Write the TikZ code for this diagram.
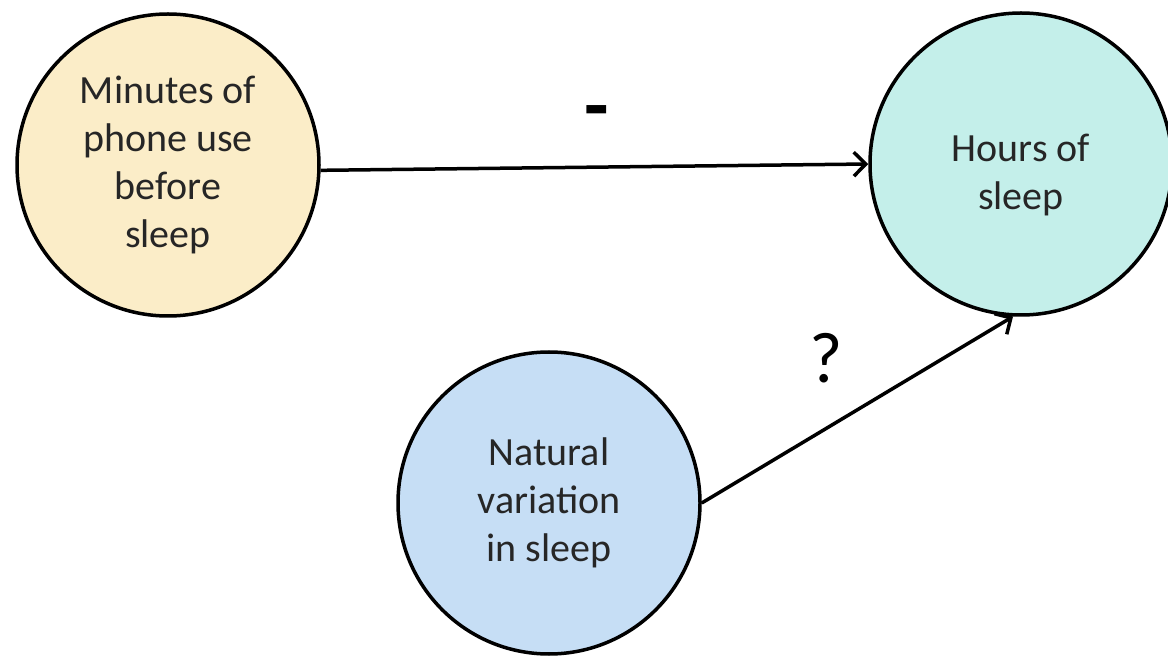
\documentclass[tikz,border=0pt]{standalone}
\usepackage{fontspec}
\setmainfont{Carlito}
\usetikzlibrary{arrows.meta}
\definecolor{phonefill}{RGB}{251,237,200}
\definecolor{hoursfill}{RGB}{196,239,234}
\definecolor{naturalfill}{RGB}{198,222,245}
\tikzset{
  var/.style={circle, draw, line width=3.5pt, minimum size=302pt, inner sep=0pt,
    align=center, text=black!85, font=\fontsize{40}{48}\selectfont},
  link/.style={line width=3.5pt, -{Straight Barb[length=12pt,width=24pt]}},
  sign/.style={inner sep=0pt, font=\fontsize{72}{72}\selectfont}
}
\begin{document}
\begin{tikzpicture}[x=1pt,y=-1pt]
  \useasboundingbox (0,0) rectangle (1168,660);
  % Variables
  \node[var, fill=phonefill] (phone) at (168,165) {Minutes of\\phone use\\before\\sleep};
  \node[var, fill=hoursfill, text height=98pt] (hours) at (1021,164) {Hours of\\sleep};
  \node[var, fill=naturalfill] (natural) at (549,503) {Natural\\variation\\in sleep};
  % Effects with their signs
  \draw[link] (phone.-2) -- (hours.west);
  \draw[link] (natural.east) -- (hours.-93);
  \node[sign, font=\fontsize{80}{80}\selectfont\bfseries] (minus) at (597,119) {-};
  \node[sign] (query) at (826,358) {?};
\end{tikzpicture}
\end{document}
